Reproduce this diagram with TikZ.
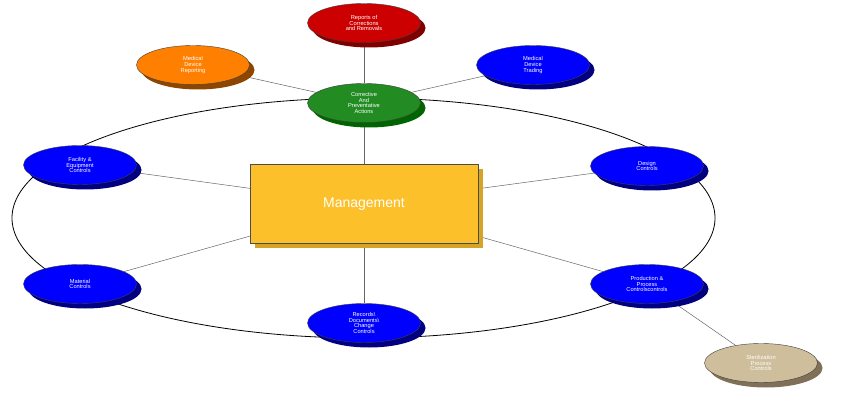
\documentclass[tikz,border=0pt]{standalone}
\usepackage{fontspec}
\setmainfont{Liberation Sans}
\usetikzlibrary{shapes.geometric, shadows, backgrounds}

\definecolor{redfill}{RGB}{204,0,0}
\definecolor{redshade}{RGB}{128,0,0}
\definecolor{orangefill}{RGB}{255,128,0}
\definecolor{orangeshade}{RGB}{140,70,0}
\definecolor{bluefill}{RGB}{0,0,255}
\definecolor{blueshade}{RGB}{0,0,128}
\definecolor{greenfill}{RGB}{34,139,34}
\definecolor{greenshade}{RGB}{0,100,0}
\definecolor{tanfill}{RGB}{206,190,155}
\definecolor{tanshade}{RGB}{128,112,88}
\definecolor{mgmtfill}{RGB}{252,192,42}
\definecolor{mgmtshade}{RGB}{214,164,36}

\begin{document}
\begin{tikzpicture}[x=1pt, y=-1pt,
    bubble/.style={ellipse, draw=black!75, line width=0.4pt, minimum width=113pt,
        minimum height=39pt, inner sep=0pt, align=center, text=white,
        font=\fontsize{5.7}{5.9}\selectfont},
    shade/.style={drop shadow={shadow xshift=5pt, shadow yshift=-5pt, fill=#1, opacity=1}},
    link/.style={draw=black!60, line width=0.5pt}]

    \useasboundingbox (0,0) rectangle (843,403);

    % Nodes
    \node (mgmt) at (364,204) [rectangle, draw=black!70, line width=0.4pt, fill=mgmtfill,
        shade=mgmtshade, minimum width=228pt, minimum height=79pt, text=white,
        font=\fontsize{14}{16}\selectfont] {Management};
    \node (capa) at (364,103) [bubble, fill=greenfill, shade=greenshade] {Corrective\\And\\Preventative\\Actions};
    \node (rep) at (364,23) [bubble, fill=redfill, shade=redshade] {Reports of\\Corrections\\and Removals};
    \node (mdr) at (193,65) [bubble, fill=orangefill, shade=orangeshade] {Medical\\Device\\Reporting};
    \node (mdt) at (533,65) [bubble, fill=bluefill, shade=blueshade] {Medical\\Device\\Trading};
    \node (fac) at (80,165) [bubble, fill=bluefill, shade=blueshade] {Facility \&\\Equipment\\Controls};
    \node (des) at (647,166) [bubble, fill=bluefill, shade=blueshade] {Design\\Controls};
    \node (mat) at (80,284) [bubble, fill=bluefill, shade=blueshade] {Material\\Controls};
    \node (prod) at (647,284) [bubble, fill=bluefill, shade=blueshade] {Production \&\\Process\\Controlscontrols};
    \node (rec) at (364,323) [bubble, fill=bluefill, shade=blueshade] {Records\textbackslash\\Documents\textbackslash\\Change\\Controls};
    \node (ster) at (761,363) [bubble, fill=tanfill, shade=tanshade] {Sterilization\\Process\\Controls};

    % Edges
    \begin{scope}[on background layer]
        \draw[black, line width=0.8pt] (363.5,218) ellipse [x radius=351.5pt, y radius=120pt];
        \draw[link] (mgmt) -- (capa);
        \draw[link] (mgmt) -- (fac);
        \draw[link] (mgmt) -- (des);
        \draw[link] (mgmt) -- (mat);
        \draw[link] (mgmt) -- (prod);
        \draw[link] (mgmt) -- (rec);
        \draw[link] (capa) -- (rep);
        \draw[link] (capa) -- (mdr);
        \draw[link] (capa) -- (mdt);
        \draw[link] (prod) -- (ster);
    \end{scope}
\end{tikzpicture}
\end{document}
